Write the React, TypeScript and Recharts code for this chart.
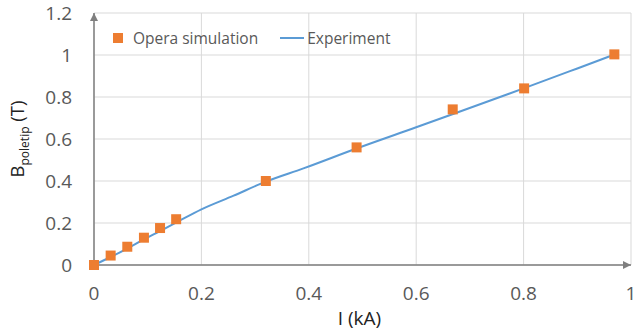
import React from 'react';
import { ComposedChart, Line, Scatter, XAxis, YAxis, CartesianGrid } from 'recharts';

const simX = [0, 0.031, 0.062, 0.093, 0.123, 0.153, 0.32, 0.489, 0.668, 0.801, 0.969];
const simY = [0, 0.045, 0.087, 0.13, 0.176, 0.218, 0.4, 0.56, 0.741, 0.841, 1.003];
const expX = [0, 0.03, 0.06, 0.09, 0.12, 0.15, 0.2, 0.26, 0.32, 0.39, 0.49, 0.6, 0.67, 0.8, 0.9, 0.967];
const expY = [0, 0.037, 0.076, 0.118, 0.158, 0.198, 0.265, 0.33, 0.397, 0.46, 0.556, 0.656, 0.72, 0.841, 0.936, 1.0];
const xTicks = [0, 0.2, 0.4, 0.6, 0.8, 1];
const yTicks = [0, 0.2, 0.4, 0.6, 0.8, 1, 1.2];

const simData = simX.map((x, i) => ({ x, y: simY[i] }));
const expData = expX.map((x, i) => ({ x, y: expY[i] }));

const FONT = '"Open Sans", "DejaVu Sans", sans-serif';
const ORANGE = '#ED7D31';
const BLUE = '#5B9BD5';

const Square = (props: any) => {
  const { cx, cy } = props;
  if (cx == null || cy == null) return null;
  return <rect x={cx - 5} y={cy - 5} width={10} height={10} fill={ORANGE} />;
};

const YLabel = (props: any) => {
  const vb = props.viewBox || {};
  const x = (vb.x ?? 0) + 24;
  const y = (vb.y ?? 0) + (vb.height ?? 0) / 2;
  return (
    <text
      x={x}
      y={y}
      transform={`rotate(-90, ${x}, ${y})`}
      textAnchor="middle"
      fill="#222"
      fontFamily={FONT}
      fontSize={18.5}
    >
      <tspan>B</tspan>
      <tspan fontSize={12} dy={5}>poletip</tspan>
      <tspan dy={-5}> (T)</tspan>
    </text>
  );
};

const XLabel = (props: any) => {
  const vb = props.viewBox || {};
  const x = (vb.x ?? 0) + (vb.width ?? 0) / 2 - 3;
  const y = (vb.y ?? 0) + 60;
  return (
    <text x={x} y={y} textAnchor="middle" fill="#222" fontFamily={FONT} fontSize={19}>
      I (kA)
    </text>
  );
};

export default function App() {
  return (
    <div style={{ position: 'absolute', left: 0, top: 0, width: 636, height: 335, background: '#fff' }}>
      <svg width={0} height={0} style={{ position: 'absolute' }}>
        <defs>
          <marker
            id="axArrow"
            viewBox="0 0 10 10"
            refX={10}
            refY={5}
            markerWidth={8}
            markerHeight={8}
            markerUnits="userSpaceOnUse"
            orient="auto-start-reverse"
          >
            <path d="M0,0 L10,5 L0,10 z" fill="#7f7f7f" />
          </marker>
        </defs>
      </svg>
      <ComposedChart width={636} height={335} margin={{ top: 13, right: 5, bottom: 0, left: 0 }}>
        <CartesianGrid stroke="#d9d9d9" strokeWidth={1} />
        <XAxis
          type="number"
          dataKey="x"
          domain={[0, 1]}
          ticks={xTicks}
          height={70}
          tickLine={false}
          tickMargin={16}
          axisLine={{ stroke: '#7f7f7f', strokeWidth: 1.5, markerEnd: 'url(#axArrow)' } as any}
          tick={{ fill: '#595959', fontSize: 19, fontFamily: FONT }}
          label={{ content: <XLabel /> } as any}
        />
        <YAxis
          type="number"
          dataKey="y"
          domain={[0, 1.2]}
          ticks={yTicks}
          width={94}
          tickLine={false}
          tickMargin={16}
          axisLine={{ stroke: '#7f7f7f', strokeWidth: 1.5, markerStart: 'url(#axArrow)' } as any}
          tick={{ fill: '#595959', fontSize: 19, fontFamily: FONT }}
          label={{ content: <YLabel /> } as any}
        />
        <Line
          data={expData}
          dataKey="y"
          type="monotone"
          stroke={BLUE}
          strokeWidth={2}
          dot={false}
          activeDot={false}
          isAnimationActive={false}
          name="Experiment"
        />
        <Scatter
          data={simData}
          dataKey="y"
          fill={ORANGE}
          shape={Square}
          isAnimationActive={false}
          name="Opera simulation"
        />
      </ComposedChart>
      <div
        style={{
          position: 'absolute',
          left: 113,
          top: 27,
          height: 22,
          display: 'flex',
          alignItems: 'center',
          fontFamily: FONT,
          fontSize: 15.5,
          color: '#595959',
          whiteSpace: 'nowrap',
        }}
      >
        <span style={{ display: 'inline-block', width: 10, height: 10, background: ORANGE, marginRight: 10 }} />
        <span>Opera simulation</span>
        <span style={{ display: 'inline-block', width: 24, height: 2, background: BLUE, marginLeft: 22, marginRight: 3 }} />
        <span>Experiment</span>
      </div>
    </div>
  );
}
